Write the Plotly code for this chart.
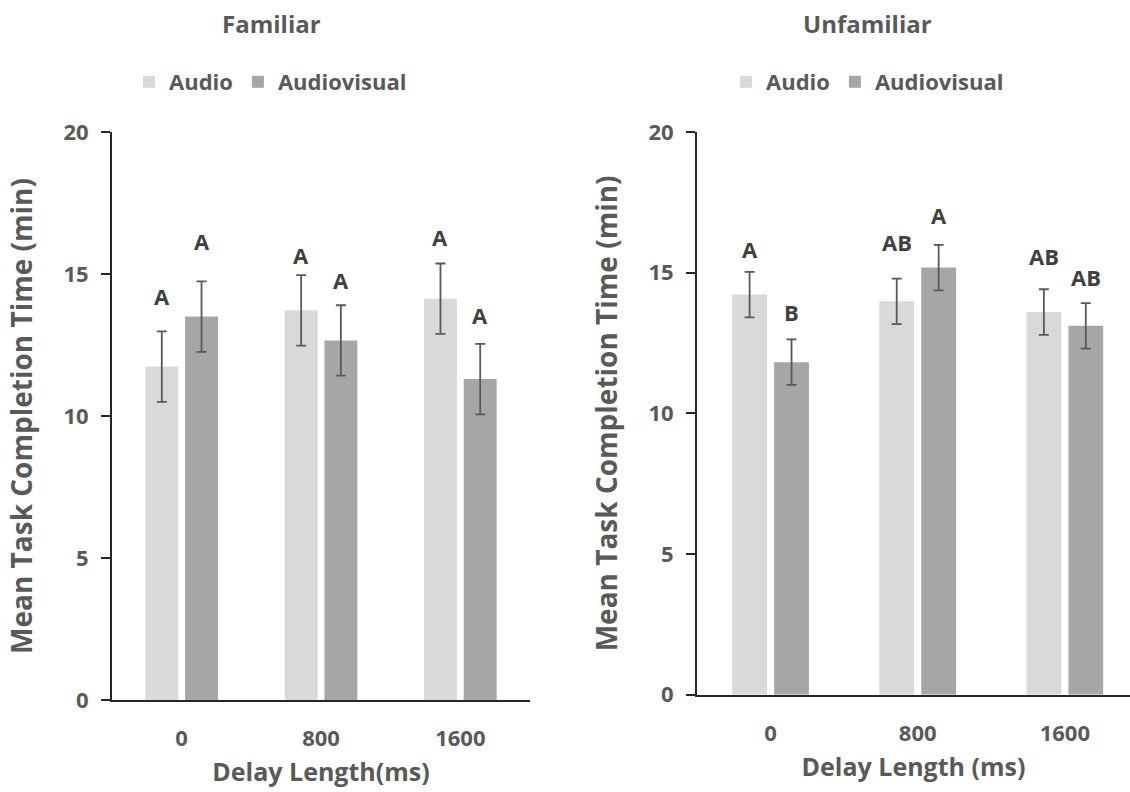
import plotly.graph_objects as go

# Delay conditions (ms)
delays = ["0", "800", "1600"]

# Familiar condition: mean task completion time (min) and error
fam_audio = [11.74, 13.72, 14.13]
fam_audio_err = [1.24, 1.24, 1.24]
fam_av = [13.50, 12.66, 11.30]
fam_av_err = [1.24, 1.24, 1.24]

# Unfamiliar condition
unf_audio = [14.22, 13.98, 13.60]
unf_audio_err = [0.81, 0.81, 0.81]
unf_av = [11.82, 15.18, 13.11]
unf_av_err = [0.81, 0.81, 0.81]

# Significance letters and their heights (min)
fam_audio_letters = ["A", "A", "A"]
fam_av_letters = ["A", "A", "A"]
unf_audio_letters = ["A", "AB", "AB"]
unf_av_letters = ["B", "A", "AB"]
fam_audio_letter_y = [14.24, 15.67, 16.31]
fam_av_letter_y = [16.17, 14.79, 13.56]
unf_audio_letter_y = [15.84, 16.10, 15.60]
unf_av_letter_y = [13.62, 17.05, 14.86]

AUDIO_COLOR = "#d9d9d9"
AV_COLOR = "#a6a6a6"
TEXT_COLOR = "#595959"
LETTER_COLOR = "#404040"
AXIS_COLOR = "#262626"
FONT = "Open Sans"

err_style = dict(type="data", visible=True, color="#595959", thickness=1.8, width=5)

fig = go.Figure()

fig.add_trace(go.Bar(name="Audio", x=delays, y=fam_audio, marker_color=AUDIO_COLOR,
                     error_y=dict(array=fam_audio_err, **err_style),
                     xaxis="x", yaxis="y", legend="legend", offsetgroup="a"))
fig.add_trace(go.Bar(name="Audiovisual", x=delays, y=fam_av, marker_color=AV_COLOR,
                     error_y=dict(array=fam_av_err, **err_style),
                     xaxis="x", yaxis="y", legend="legend", offsetgroup="b"))
fig.add_trace(go.Bar(name="Audio", x=delays, y=unf_audio, marker_color=AUDIO_COLOR,
                     error_y=dict(array=unf_audio_err, **err_style),
                     xaxis="x2", yaxis="y2", legend="legend2", offsetgroup="a"))
fig.add_trace(go.Bar(name="Audiovisual", x=delays, y=unf_av, marker_color=AV_COLOR,
                     error_y=dict(array=unf_av_err, **err_style),
                     xaxis="x2", yaxis="y2", legend="legend2", offsetgroup="b"))

annotations = []


def add_letters(xref, yref, letters, heights, shift):
    # category axes take the index of each delay
    for i, (t, h) in enumerate(zip(letters, heights)):
        annotations.append(dict(x=i, y=h, xref=xref, yref=yref, text=t, showarrow=False,
                                xshift=shift, yanchor="middle",
                                font=dict(family=FONT, size=22, color=LETTER_COLOR, weight="bold")))


add_letters("x", "y", fam_audio_letters, fam_audio_letter_y, -20)
add_letters("x", "y", fam_av_letters, fam_av_letter_y, 20)
add_letters("x2", "y2", unf_audio_letters, unf_audio_letter_y, -21)
add_letters("x2", "y2", unf_av_letters, unf_av_letter_y, 21)

# Panel titles
for txt, xc in [("Familiar", 271 / 1130), ("Unfamiliar", 867.5 / 1130)]:
    annotations.append(dict(x=xc, y=(792 - 24) / 792, xref="paper", yref="paper", text=txt,
                            showarrow=False, xanchor="center", yanchor="middle",
                            font=dict(family=FONT, size=24, color=TEXT_COLOR, weight="bold")))

tick_font = dict(family=FONT, size=22, color=TEXT_COLOR, weight="bold")
title_font = dict(family=FONT, size=25, color=TEXT_COLOR, weight="bold")
ytitle_font = dict(family=FONT, size=28, color=TEXT_COLOR, weight="bold")

xcommon = dict(type="category", showline=True, linecolor=AXIS_COLOR, linewidth=2,
               ticks="", tickfont=tick_font, ticklabelstandoff=18, showgrid=False,
               zeroline=False, automargin=False)
ycommon = dict(range=[0, 20], dtick=5, showline=True, linecolor=AXIS_COLOR, linewidth=2,
               ticks="outside", ticklen=9, tickwidth=2, tickcolor=AXIS_COLOR,
               tickfont=tick_font, ticklabelstandoff=8, showgrid=False, zeroline=False,
               automargin=False)

legend_common = dict(orientation="h", font=dict(family=FONT, size=22, color=TEXT_COLOR, weight="bold"),
                     xanchor="left", yanchor="middle", bgcolor="rgba(0,0,0,0)",
                     traceorder="normal")

fig.update_layout(
    template="none",
    width=1130, height=792,
    margin=dict(l=0, r=0, t=0, b=0, autoexpand=False),
    paper_bgcolor="white", plot_bgcolor="white",
    barmode="group", bargap=0.43, bargroupgap=0.17,
    xaxis=dict(domain=[112 / 1130, 530 / 1130], anchor="y", range=[-0.5, 2.5],
               title=dict(text="Delay Length(ms)", font=title_font, standoff=12), **xcommon),
    yaxis=dict(domain=[(792 - 700) / 792, (792 - 132) / 792], anchor="x",
               title=dict(text="Mean Task Completion Time (min)", font=ytitle_font, standoff=23),
               **ycommon),
    xaxis2=dict(domain=[697 / 1130, 1.0], anchor="y2", range=[-0.5, 2.443],
                title=dict(text="Delay Length (ms)", font=title_font, standoff=12), **xcommon),
    yaxis2=dict(domain=[(792 - 694.7) / 792, (792 - 132) / 792], anchor="x2",
                title=dict(text="Mean Task Completion Time (min)", font=ytitle_font, standoff=23),
                **ycommon),
    legend=dict(x=129 / 1130, y=(792 - 82) / 792, **legend_common),
    legend2=dict(x=726 / 1130, y=(792 - 82) / 792, **legend_common),
    annotations=annotations,
)

fig.write_html("out.html")
